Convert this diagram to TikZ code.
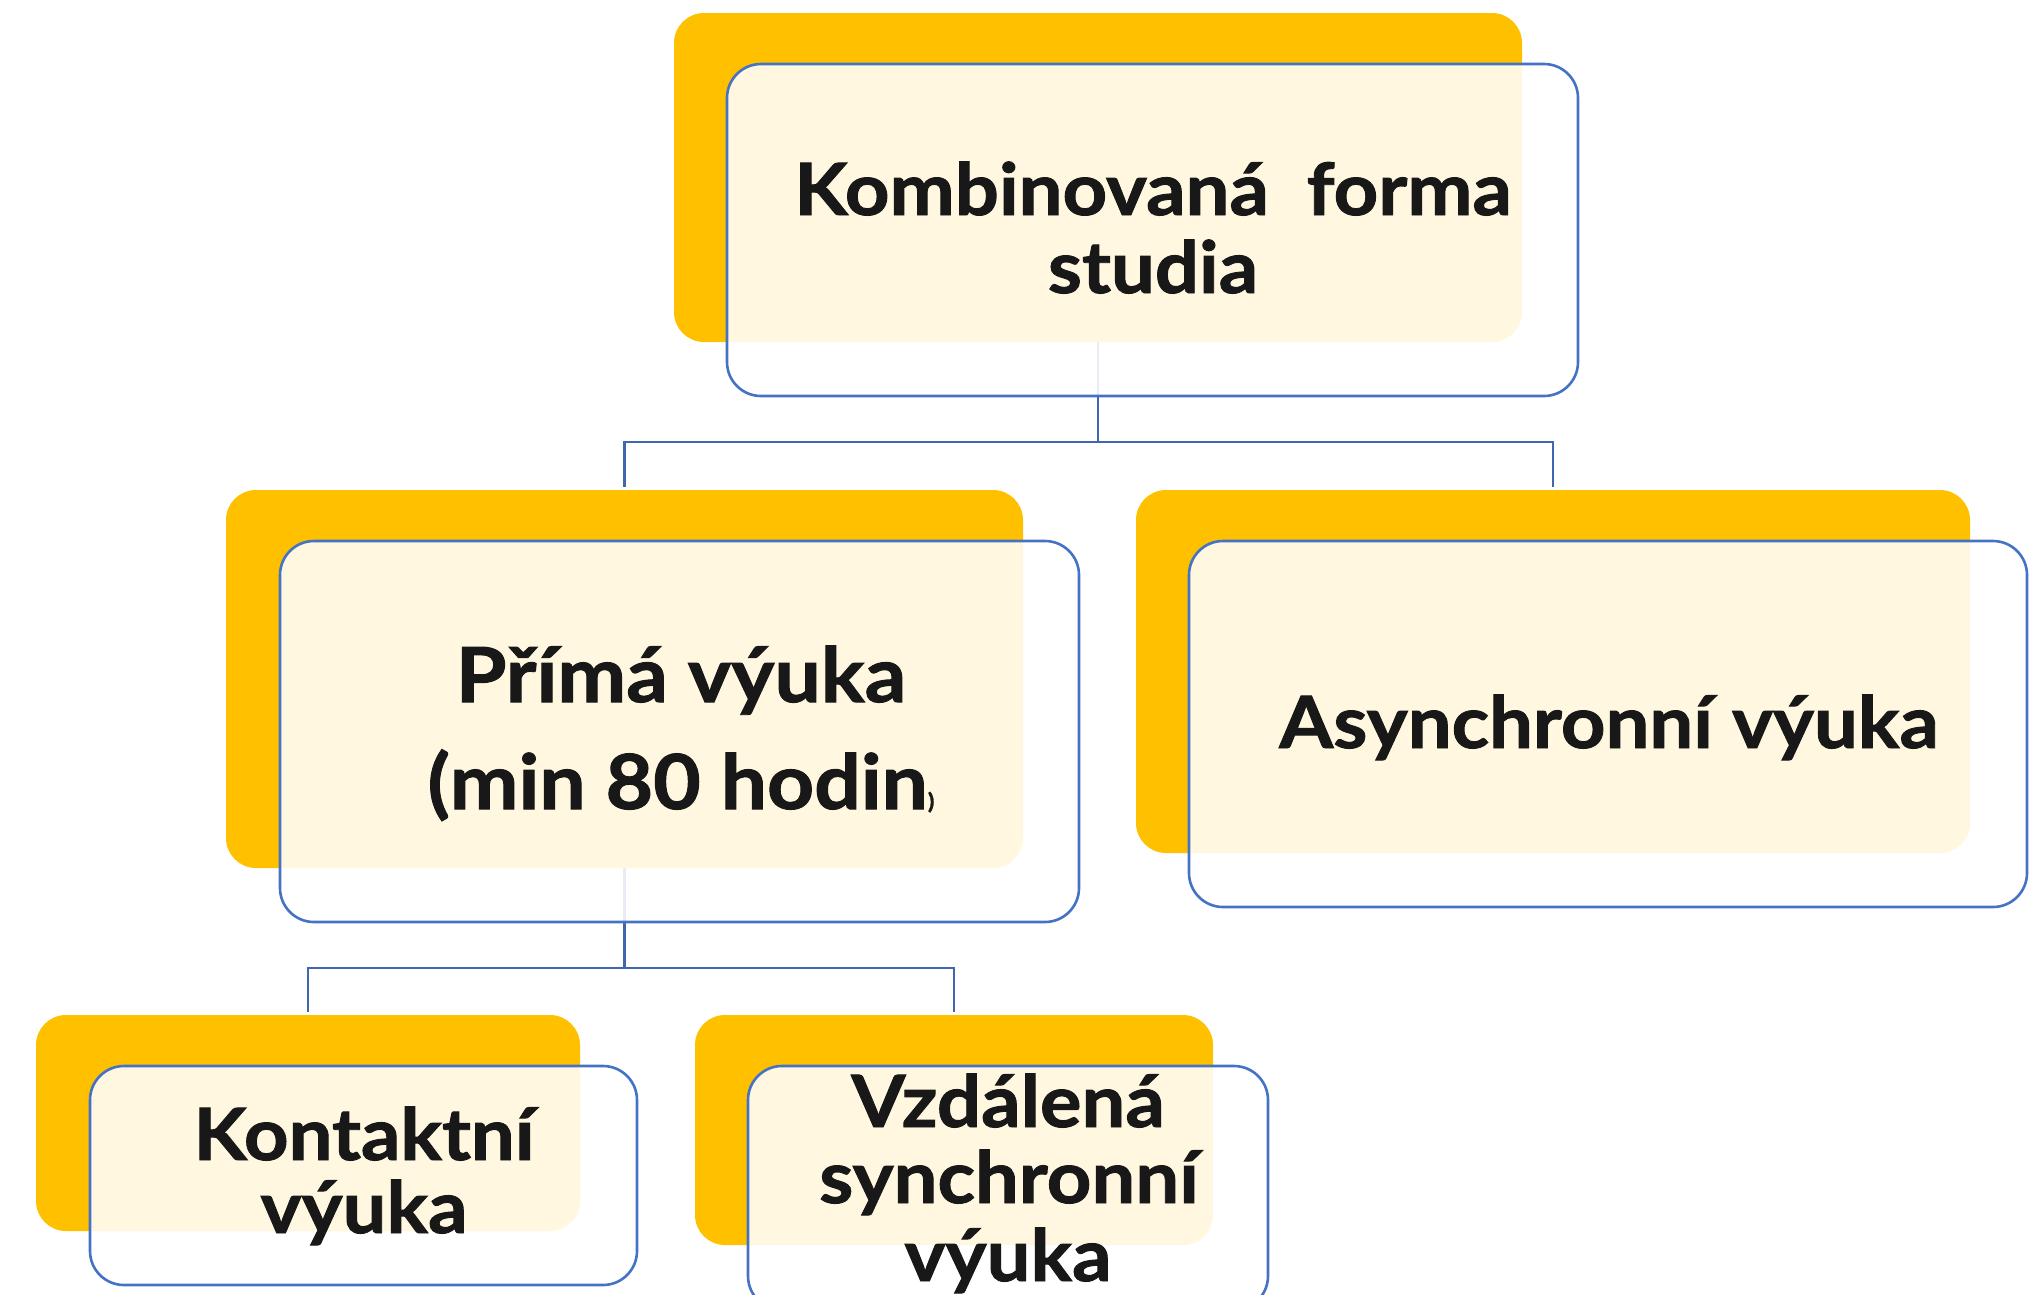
\documentclass[tikz,border=0pt]{standalone}
\usepackage{fontspec}
\setmainfont{Lato}[BoldFeatures={FakeBold=1.3,FakeStretch=1.08}]
\usetikzlibrary{calc}
\pgfdeclarelayer{bg}
\pgfsetlayers{bg,main}
\definecolor{gold}{HTML}{FFC000}
\definecolor{edgeblue}{HTML}{4472C4}
\definecolor{linkblue}{HTML}{3F66AE}
\definecolor{ink}{HTML}{181818}
\tikzset{
  goldbox/.style={fill=gold, draw=none, rounded corners=30pt, inner sep=0pt},
  frontbox/.style={fill=white, fill opacity=0.88, draw=edgeblue, draw opacity=1, line width=2.6pt, rounded corners=34pt, inner sep=0pt},
  lbl/.style={anchor=base, inner sep=0pt, text=ink, font=\fontsize{72}{72}\selectfont\bfseries},
  link/.style={draw=linkblue, line width=2.2pt}
}
\begin{document}
\begin{tikzpicture}[x=1pt,y=-1pt]
\useasboundingbox (0,0) rectangle (2040,1294);
\clip (0,0) rectangle (2040,1294);
% gold back boxes
\node[goldbox, minimum width=848pt, minimum height=329pt] (ty) at (1098,177.5) {};
\node[goldbox, minimum width=797pt, minimum height=378pt] (my) at (624.5,679) {};
\node[goldbox, minimum width=834pt, minimum height=363pt] (ry) at (1553,671.5) {};
\node[goldbox, minimum width=544pt, minimum height=216pt] (ky) at (308,1123) {};
\node[goldbox, minimum width=518pt, minimum height=230pt] (vy) at (954,1130) {};
% front boxes
\node[frontbox, minimum width=851pt, minimum height=332pt] (tb) at (1152.5,230) {};
\node[frontbox, minimum width=799pt, minimum height=381pt] (mb) at (679.5,731.5) {};
\node[frontbox, minimum width=838pt, minimum height=366pt] (rb) at (1608,724) {};
\node[frontbox, minimum width=547pt, minimum height=219pt] (kb) at (363.5,1175.5) {};
\node[frontbox, minimum width=520pt, minimum height=244pt] (vb) at (1008,1188) {};
% connectors
\coordinate (j1) at (1098,442);
\coordinate (j2) at (624.5,968);
\begin{pgfonlayer}{bg}
\draw[link] (ty.south) -- (j1);
\draw[link] ($(my.north)+(0,-3)$) |- (j1) -| ($(ry.north)+(0,-3)$);
\draw[link] (my.south) -- (j2);
\draw[link] ($(ky.north)+(0,-3)$) |- (j2) -| ($(vy.north)+(0,-3)$);
\end{pgfonlayer}
% labels
\node[lbl] (t1) at (1153,215) {Kombinovaná\ \ forma};
\node[lbl] (t2) at (1153,293) {studia};
\node[lbl, font=\fontsize{76}{76}\selectfont\bfseries] (m1) at (681,702) {Přímá výuka};
\node[lbl, font=\fontsize{76}{76}\selectfont\bfseries] (m2) at (681,809) {(min 80 hodin{\fontsize{22}{22}\selectfont)}};
\node[lbl] (r1) at (1609,748) {Asynchronní výuka};
\node[lbl] (k1) at (364,1160) {Kontaktní};
\node[lbl] (k2) at (364,1233) {výuka};
\node[lbl] (v1) at (1008,1127) {Vzdálená};
\node[lbl] (v2) at (1009,1203) {synchronní};
\node[lbl] (v3) at (1008,1281) {výuka};
\end{tikzpicture}
\end{document}
